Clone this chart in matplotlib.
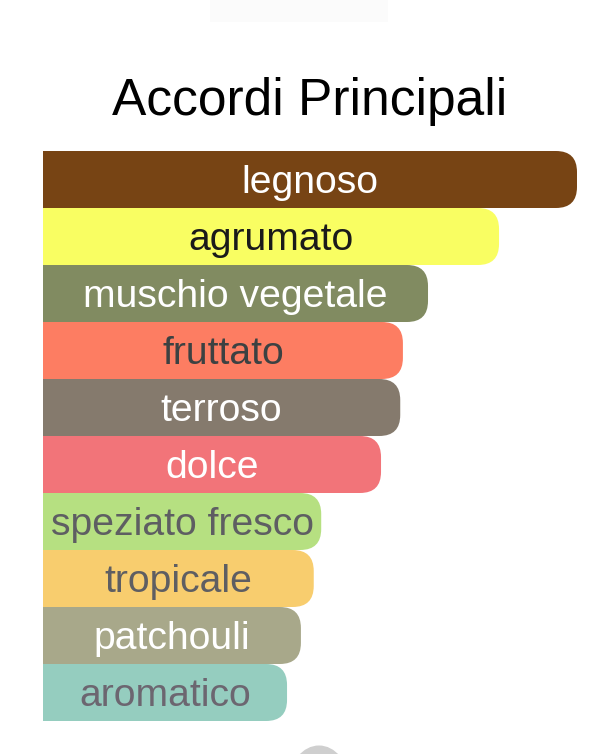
import matplotlib
matplotlib.use("Agg")
import matplotlib.pyplot as plt
from matplotlib.patches import FancyBboxPatch, Rectangle, Circle

# dati (lunghezza relativa delle barre)
accordi = ["legnoso", "agrumato", "muschio vegetale", "fruttato", "terroso",
           "dolce", "speziato fresco", "tropicale", "patchouli", "aromatico"]
valori = [100, 85.4, 72.1, 67.4, 66.9, 63.3, 52.1, 50.7, 48.3, 45.7]
colori = ["#774414", "#f9fe62", "#818b61", "#fd7d62", "#857a6d",
          "#f27479", "#b6e081", "#f8cd6e", "#a8a88a", "#95cdbf"]
colori_testo = ["white", "#1a1a1a", "white", "#3c4142", "white",
                "white", "#5e5e62", "#5e5e62", "white", "#6c6670"]

W, H = 603, 754
plt.rcParams["font.family"] = ["Liberation Sans", "DejaVu Sans"]

fig = plt.figure(figsize=(W / 100, H / 100), dpi=100)
fig.patch.set_facecolor("white")

# elementi decorativi dello screenshot
fig.patches.append(Rectangle((210 / W, 1 - 22 / H), 178 / W, 22 / H,
                             transform=fig.transFigure, color="#fbfbfb", lw=0))
fig.patches.append(Circle((319 / W, 1 - 783 / H), 30 / W,
                          transform=fig.transFigure, color="#cfcfcf", lw=0))

ax = fig.add_axes([43 / W, 33 / H, 534 / W, 570 / H])
ax.set_xlim(0, 100)
ax.set_ylim(len(accordi) - 0.5, -0.5)
ax.axis("off")

y = list(range(len(accordi)))
bars = ax.barh(y, valori, height=1.0, color=colori)

# angoli arrotondati a destra
fig.canvas.draw()
bb = ax.get_window_extent()
px_x = bb.width / 100.0
px_y = bb.height / len(accordi)
r = 21 / px_x
aspect = px_x / px_y
for bar, c in zip(bars, colori):
    bar.set_visible(False)
    x0, y0 = bar.get_x(), bar.get_y()
    w, h = bar.get_width(), bar.get_height()
    p = FancyBboxPatch((x0 - 10, y0), w + 10, h,
                       boxstyle=f"round,pad=0,rounding_size={r}",
                       mutation_aspect=aspect, fc=c, ec="none")
    ax.add_patch(p)

for yi, v, lab, tc in zip(y, valori, accordi, colori_testo):
    ax.text(v / 2, yi + 0.237, lab, ha="center", va="baseline",
            fontsize=28.2, color=tc)

fig.text(310 / W, 1 - 115 / H, "Accordi Principali", ha="center",
         va="baseline", fontsize=37.1, color="black")

fig.savefig("out.png", dpi=100, facecolor="white")
